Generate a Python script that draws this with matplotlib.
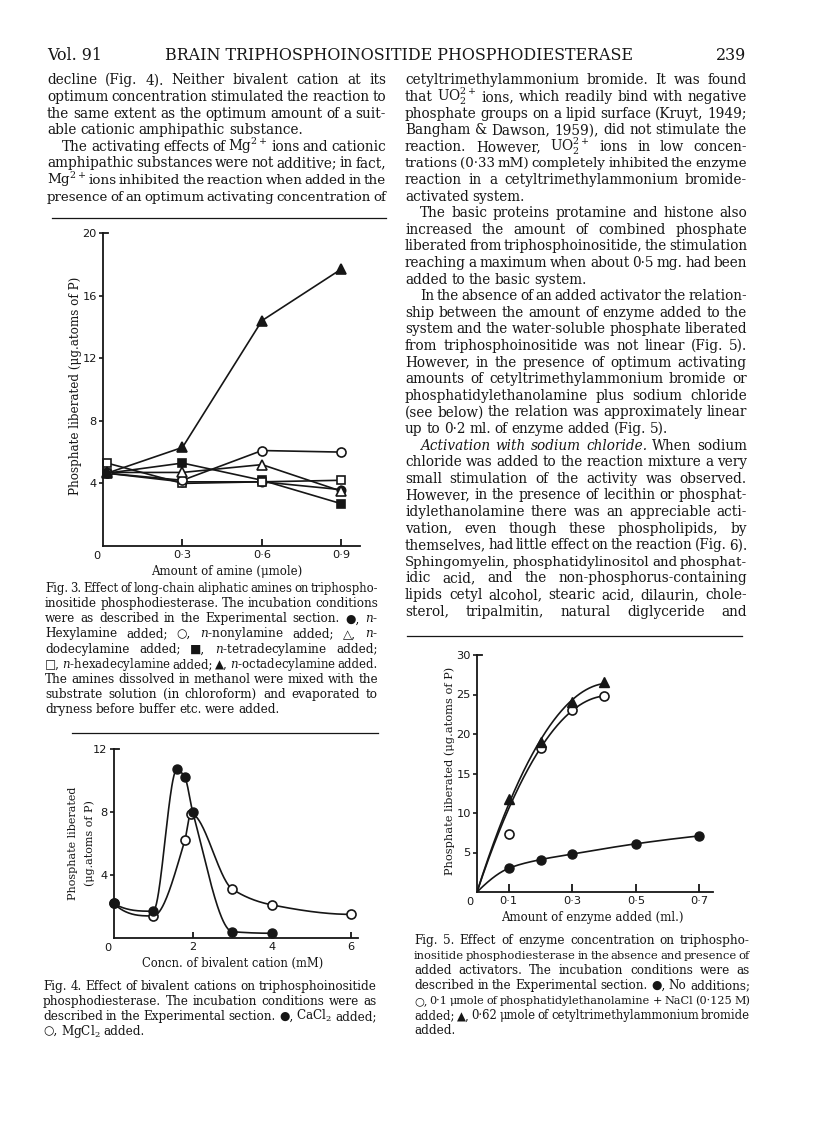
import matplotlib
matplotlib.use('Agg')
import matplotlib.pyplot as plt
import numpy as np

W, H = 816, 1138
INK = '#161616'

plt.rcParams['font.family'] = ['DejaVu Serif', 'DejaVu Sans']
plt.rcParams['mathtext.fontset'] = 'dejavuserif'

# ---- Fig. 3: amines ----
amine_x = [0.015, 0.3, 0.6, 0.9]
amine_ticks = [0.3, 0.6, 0.9]
amine_tick_labels = ['0·3', '0·6', '0·9']
hexylamine = [4.65, 4.1, 4.1, 3.6]
nonylamine = [4.65, 4.2, 6.1, 6.0]
dodecylamine = [4.7, 4.7, 5.2, 3.5]
tetradecylamine = [4.65, 5.3, 4.2, 2.7]
hexadecylamine = [5.3, 4.0, 4.1, 4.2]
octadecylamine = [4.65, 6.3, 14.4, 17.7]
fig3_yticks = [4, 8, 12, 16, 20]

# ---- Fig. 4: bivalent cations ----
cacl2_x = [0.0, 1.0, 1.6, 1.8, 2.0, 3.0, 4.0]
cacl2_y = [2.2, 1.7, 10.7, 10.2, 8.0, 0.4, 0.3]
mgcl2_x = [0.0, 1.0, 1.8, 1.95, 3.0, 4.0, 6.0]
mgcl2_y = [2.2, 1.4, 6.2, 7.9, 3.1, 2.1, 1.5]
fig4_xticks = [2, 4, 6]
fig4_yticks = [4, 8, 12]

# ---- Fig. 5: enzyme ----
enzyme_none_x = [0.0, 0.1, 0.2, 0.3, 0.5, 0.7]
no_additions = [0.0, 3.0, 4.1, 4.8, 6.1, 7.1]
enzyme_act_x = [0.1, 0.2, 0.3, 0.4]
pe_nacl = [7.3, 18.2, 23.0, 24.8]
ctab = [11.8, 19.0, 24.0, 26.6]
fig5_xticks = [0.1, 0.3, 0.5, 0.7]
fig5_xtick_labels = ['0·1', '0·3', '0·5', '0·7']
fig5_yticks = [5, 10, 15, 20, 25, 30]

header = ['Vol. 91', 'BRAIN TRIPHOSPHOINOSITIDE PHOSPHODIESTERASE', '239']

left_col = [
    'decline (Fig. 4). Neither bivalent cation at its',
    'optimum concentration stimulated the reaction to',
    'the same extent as the optimum amount of a suit-',
    'able cationic amphipathic substance.|',
    '>The activating effects of Mg$^{2+}$ ions and cationic',
    'amphipathic substances were not additive; in fact,',
    'Mg$^{2+}$ ions inhibited the reaction when added in the',
    'presence of an optimum activating concentration of',
]

right_col = [
    'cetyltrimethylammonium bromide. It was found',
    'that UO$_2^{2+}$ ions, which readily bind with negative',
    'phosphate groups on a lipid surface (Kruyt, 1949;',
    'Bangham & Dawson, 1959), did not stimulate the',
    'reaction. However, UO$_2^{2+}$ ions in low concen-',
    'trations (0·33 mM) completely inhibited the enzyme',
    'reaction in a cetyltrimethylammonium bromide-',
    'activated system.|',
    '>The basic proteins protamine and histone also',
    'increased the amount of combined phosphate',
    'liberated from triphosphoinositide, the stimulation',
    'reaching a maximum when about 0·5 mg. had been',
    'added to the basic system.|',
    '>In the absence of an added activator the relation-',
    'ship between the amount of enzyme added to the',
    'system and the water-soluble phosphate liberated',
    'from triphosphoinositide was not linear (Fig. 5).',
    'However, in the presence of optimum activating',
    'amounts of cetyltrimethylammonium bromide or',
    'phosphatidylethanolamine plus sodium chloride',
    '(see below) the relation was approximately linear',
    'up to 0·2 ml. of enzyme added (Fig. 5).|',
    '>_Activation _with _sodium _chloride. When sodium',
    'chloride was added to the reaction mixture a very',
    'small stimulation of the activity was observed.',
    'However, in the presence of lecithin or phosphat-',
    'idylethanolamine there was an appreciable acti-',
    'vation, even though these phospholipids, by',
    'themselves, had little effect on the reaction (Fig. 6).',
    'Sphingomyelin, phosphatidylinositol and phosphat-',
    'idic acid, and the non-phosphorus-containing',
    'lipids cetyl alcohol, stearic acid, dilaurin, chole-',
    'sterol, tripalmitin, natural diglyceride and',
]

fig3_caption = [
    'Fig. 3. Effect of long-chain aliphatic amines on triphospho-',
    'inositide phosphodiesterase. The incubation conditions',
    'were as described in the Experimental section. ●, $n$-',
    'Hexylamine added; ○, $n$-nonylamine added; △, $n$-',
    'dodecylamine added; ■, $n$-tetradecylamine added;',
    '□, $n$-hexadecylamine added; ▲, $n$-octadecylamine added.',
    'The amines dissolved in methanol were mixed with the',
    'substrate solution (in chloroform) and evaporated to',
    'dryness before buffer etc. were added.|',
]

fig4_caption = [
    'Fig. 4. Effect of bivalent cations on triphosphoinositide',
    'phosphodiesterase. The incubation conditions were as',
    'described in the Experimental section. ●, CaCl$_2$ added;',
    '○, MgCl$_2$ added.|',
]

fig5_caption = [
    'Fig. 5. Effect of enzyme concentration on triphospho-',
    'inositide phosphodiesterase in the absence and presence of',
    'added activators. The incubation conditions were as',
    'described in the Experimental section. ●, No additions;',
    '○, 0·1 μmole of phosphatidylethanolamine + NaCl (0·125 M)',
    'added; ▲, 0·62 μmole of cetyltrimethylammonium bromide',
    'added.|',
]

fig = plt.figure(figsize=(W / 100, H / 100), dpi=100)
fig.patch.set_facecolor('white')
renderer = fig.canvas.get_renderer()


def fx(x):
    return x / W


def fy(y):
    return 1 - y / H


def put(x, y, s, **kw):
    kw.setdefault('color', INK)
    return fig.text(fx(x), fy(y), s, **kw)


def width_of(s, size, **kw):
    t = fig.text(0, 0, s, fontsize=size, **kw)
    w = t.get_window_extent(renderer).width
    t.remove()
    return w


def parse(raw, indent):
    justify = not raw.endswith('|')
    line = raw.rstrip('|')
    ind = 0
    if line.startswith('>'):
        line = line[1:]
        ind = indent
    words = []
    for w in line.split():
        if w.startswith('_'):
            words.append((w[1:], 'italic'))
        else:
            words.append((w, 'normal'))
    return words, justify, ind


def fit_block(lines, width, indent=15, s0=8.0, space=0.25, q=30):
    # font size at which most justified lines set with about ordinary spaces
    ratios = []
    for raw in lines:
        words, justify, ind = parse(raw, indent)
        if not justify:
            continue
        nat = sum(width_of(w, s0, fontstyle=st) for w, st in words)
        nat += (len(words) - 1) * s0 * 100 / 72 * space
        ratios.append((width - ind) / nat)
    return s0 * np.percentile(ratios, q)


def text_block(lines, x0, x1, y0, step, size, indent=15):
    for i, raw in enumerate(lines):
        y = y0 + i * step + size * 0.45
        words, justify, ind = parse(raw, indent)
        start = x0 + ind
        avail = x1 - start
        objs = [put(0, y, w, fontsize=size, fontstyle=st, va='baseline') for w, st in words]
        widths = [o.get_window_extent(renderer).width for o in objs]
        min_gap = size * 100 / 72 * 0.16
        n = len(objs)
        if justify and sum(widths) + min_gap * (n - 1) > avail:
            s2 = size * (avail - min_gap * (n - 1)) / sum(widths)
            for o in objs:
                o.set_fontsize(s2)
            widths = [o.get_window_extent(renderer).width for o in objs]
        gap = size * 100 / 72 * 0.28
        if justify and n > 1:
            gap = (avail - sum(widths)) / (n - 1)
        x = start
        for o, wd in zip(objs, widths):
            o.set_x(fx(x))
            x += wd + gap


def label(x, y, s, width, rotation=0):
    size = 8.0 * width / width_of(s, 8.0)
    put(x, y, s, fontsize=size, ha='center', va='center', rotation=rotation)


def rule(x0, x1, y):
    fig.add_artist(plt.Line2D([fx(x0), fx(x1)], [fy(y), fy(y)], transform=fig.transFigure,
                              color=INK, lw=0.9))


def frame(l, r, t, b, xmax, ymax, xticks, xlabels, yticks, xlen, zero_off):
    ax = fig.add_axes([fx(l), fy(b), (r - l) / W, (b - t) / H])
    ax.set_xlim(0, xmax)
    ax.set_ylim(0, ymax)
    ax.patch.set_visible(False)
    for s in ('top', 'right'):
        ax.spines[s].set_visible(False)
    for s in ('left', 'bottom'):
        ax.spines[s].set_linewidth(1.3)
        ax.spines[s].set_color(INK)
    ax.set_xticks(xticks, xlabels)
    ax.set_yticks(yticks, [str(v) for v in yticks])
    ax.tick_params(axis='x', direction='in', length=xlen, width=1.3, pad=3, labelsize=8.2, colors=INK)
    ax.tick_params(axis='y', direction='out', length=3, width=1.2, pad=1.5, labelsize=8.2, colors=INK)
    for lab in ax.get_xticklabels() + ax.get_yticklabels():
        lab.set_family('DejaVu Sans')
    ax.plot([0, 5 / (r - l)], [1, 1], transform=ax.transAxes, color=INK, lw=1.3, clip_on=False)
    ax.annotate('0', (0, 0), xytext=zero_off, textcoords='offset points', ha='center', va='center',
                fontsize=8.2, family='DejaVu Sans', color=INK, annotation_clip=False)
    return ax


def pchip(x, y, n=300):
    x = np.asarray(x, float)
    y = np.asarray(y, float)
    h = np.diff(x)
    d = np.diff(y) / h
    m = np.zeros_like(y)
    for k in range(1, len(x) - 1):
        if d[k - 1] * d[k] > 0:
            w1 = 2 * h[k] + h[k - 1]
            w2 = h[k] + 2 * h[k - 1]
            m[k] = (w1 + w2) / (w1 / d[k - 1] + w2 / d[k])
    for k, (a, b, da, db) in ((0, (h[0], h[1], d[0], d[1])), (-1, (h[-1], h[-2], d[-1], d[-2]))):
        e = ((2 * a + b) * da - a * db) / (a + b)
        if np.sign(e) != np.sign(da):
            e = 0
        elif np.sign(da) != np.sign(db) and abs(e) > 3 * abs(da):
            e = 3 * da
        m[k] = e
    xs = np.linspace(x[0], x[-1], n)
    idx = np.clip(np.searchsorted(x, xs) - 1, 0, len(h) - 1)
    t = (xs - x[idx]) / h[idx]
    ys = ((2 * t ** 3 - 3 * t ** 2 + 1) * y[idx] + (t ** 3 - 2 * t ** 2 + t) * h[idx] * m[idx]
          + (-2 * t ** 3 + 3 * t ** 2) * y[idx + 1] + (t ** 3 - t ** 2) * h[idx] * m[idx + 1])
    return xs, ys


def quad_origin(x, y, n=200):
    x = np.asarray(x, float)
    A = np.column_stack([x ** 2, x])
    a, b = np.linalg.lstsq(A, np.asarray(y, float), rcond=None)[0]
    xs = np.linspace(0, x.max(), n)
    return xs, a * xs ** 2 + b * xs


# ---- header and body text ----
hsize = 10 * 462 / width_of(header[1], 10)
put(165, 60, header[1], fontsize=hsize, va='baseline')
put(47, 60, header[0], fontsize=hsize, va='baseline')
put(746, 60, header[2], fontsize=hsize, va='baseline', ha='right')

BODY = fit_block(left_col + right_col, 341)
text_block(left_col, 47, 386, 80, 16.6, BODY)
text_block(right_col, 405, 747, 80, 16.6, BODY)
rule(52, 386, 218)
rule(72, 378, 733)
rule(407, 742, 636)

CAP = fit_block(fig3_caption + fig4_caption + fig5_caption, 334, space=0.22)
text_block(fig3_caption, 45, 378, 588, 15.2, CAP)
text_block(fig4_caption, 43, 377, 986, 15.1, CAP)
text_block(fig5_caption, 414, 750, 940, 15.1, CAP)

# ---- Fig. 3 ----
ax3 = frame(103, 360, 233, 546, 0.97, 20, amine_ticks, amine_tick_labels, fig3_yticks, 5, (-4.5, -7.2))
lk = dict(color=INK, lw=1.2, clip_on=False, markeredgewidth=1.2, markeredgecolor=INK)
ax3.plot(amine_x, hexylamine, marker='o', ms=6, markerfacecolor=INK, **lk)
ax3.plot(amine_x, tetradecylamine, marker='s', ms=5.5, markerfacecolor=INK, **lk)
ax3.plot(amine_x, hexadecylamine, marker='s', ms=5.5, markerfacecolor='white', **lk)
ax3.plot(amine_x, nonylamine, marker='o', ms=6.5, markerfacecolor='white', **lk)
ax3.plot(amine_x, dodecylamine, marker='^', ms=7, markerfacecolor='white', **lk)
ax3.plot(amine_x, octadecylamine, marker='^', ms=7.5, markerfacecolor=INK, **lk)
label(227, 572, 'Amount of amine (μmole)', 151)
label(75, 386, 'Phosphate liberated (μg.atoms of P)', 216, rotation=90)

# ---- Fig. 4 ----
ax4 = frame(113.5, 358, 749, 938, 6.17, 12, fig4_xticks, [str(v) for v in fig4_xticks], fig4_yticks, 4,
            (-4, -7.2))
ax4.plot(*pchip(mgcl2_x, mgcl2_y), color=INK, lw=1.2, clip_on=False)
ax4.plot(mgcl2_x, mgcl2_y, ls='none', marker='o', ms=6.5, markerfacecolor='white', markeredgecolor=INK,
         markeredgewidth=1.2, clip_on=False)
ax4.plot(*pchip(cacl2_x, cacl2_y), color=INK, lw=1.2, clip_on=False)
ax4.plot(cacl2_x, cacl2_y, ls='none', marker='o', ms=6.5, color=INK, clip_on=False)
label(233, 963, 'Concn. of bivalent cation (mM)', 182)
label(73, 843, 'Phosphate liberated', 113, rotation=90)
label(90, 843, '(μg.atoms of P)', 86, rotation=90)

# ---- Fig. 5 ----
ax5 = frame(477, 713, 655, 892, 0.743, 30, fig5_xticks, fig5_xtick_labels, fig5_yticks, 6, (-5, -7.2))
ax5.plot(*pchip(enzyme_none_x, no_additions), color=INK, lw=1.2)
ax5.plot(enzyme_none_x[1:], no_additions[1:], ls='none', marker='o', ms=6.5, color=INK, clip_on=False)
ax5.plot(*quad_origin(enzyme_act_x[1:], pe_nacl[1:]), color=INK, lw=1.2)
ax5.plot(*quad_origin(enzyme_act_x, ctab), color=INK, lw=1.2)
ax5.plot(enzyme_act_x, pe_nacl, ls='none', marker='o', ms=6.5, markerfacecolor='white',
         markeredgecolor=INK, markeredgewidth=1.2, clip_on=False)
ax5.plot(enzyme_act_x, ctab, ls='none', marker='^', ms=7, color=INK, clip_on=False)
label(592, 918, 'Amount of enzyme added (ml.)', 182)
label(450, 771, 'Phosphate liberated (μg.atoms of P)', 208, rotation=90)

fig.savefig('out.png', dpi=100)
